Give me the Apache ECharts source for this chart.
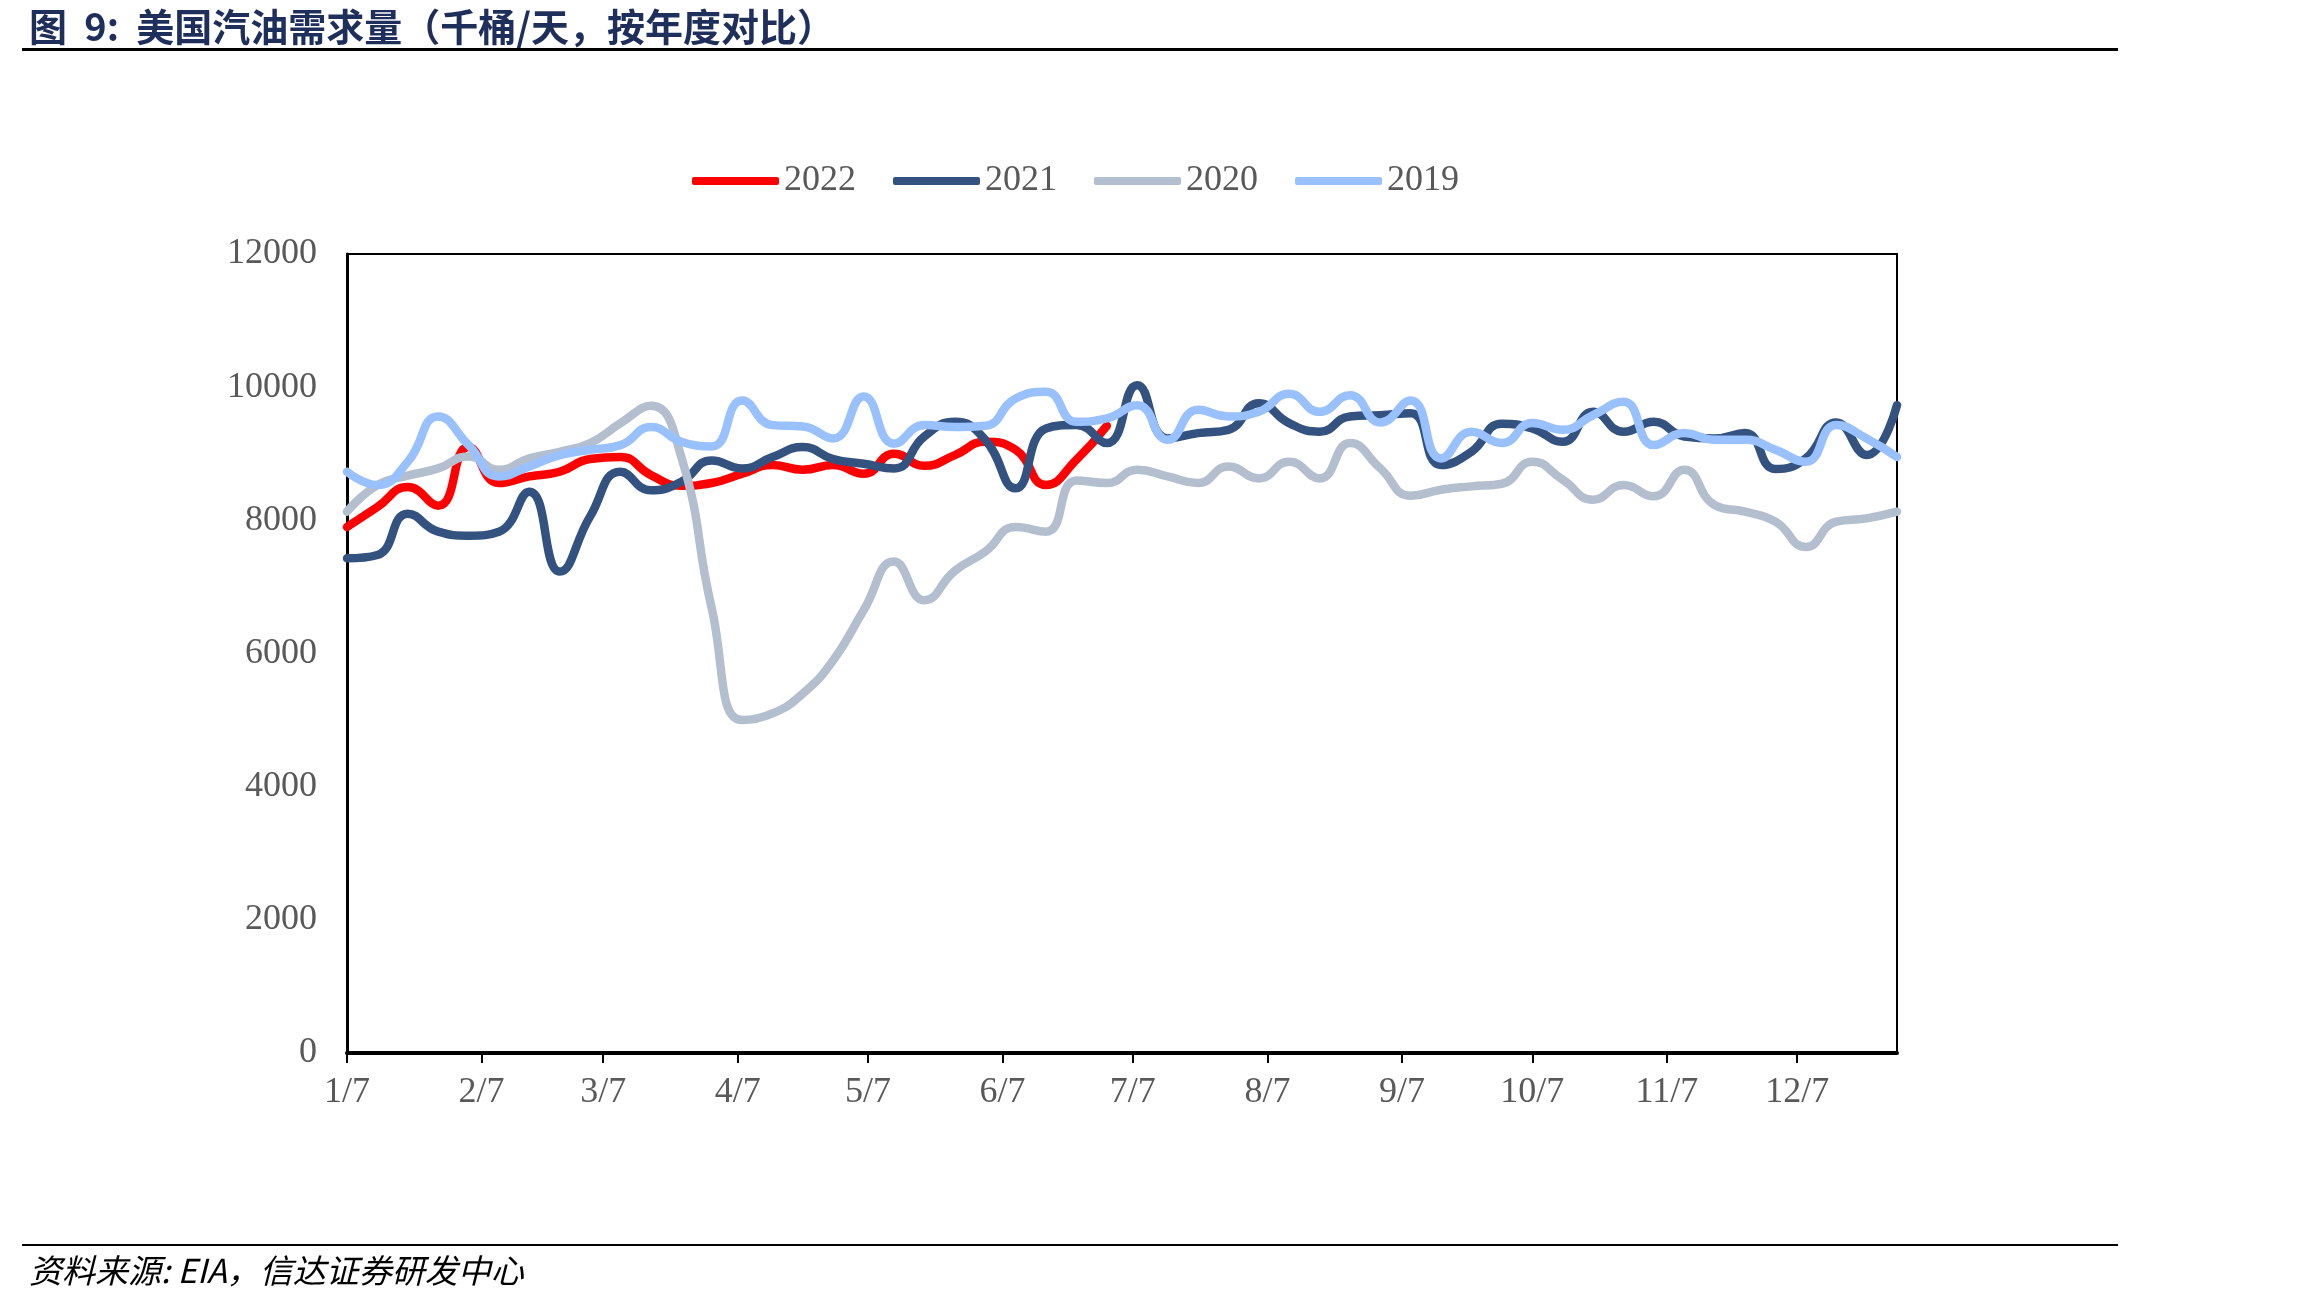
<!DOCTYPE html>
<html>
<head>
<meta charset="utf-8">
<title>美国汽油需求量</title>
<script src="https://cdn.jsdelivr.net/npm/echarts/dist/echarts.min.js"></script>
<style>
  body { margin: 0; background: #fff; }
  #main { width: 2303px; height: 1300px; }
</style>
</head>
<body>
<div id="main"></div>
<script>
// 图例 / 年份
const years = ['2022', '2021', '2020', '2019'];
const colors = ['#ff0000', '#34527f', '#b3bfcf', '#99c0ff'];

// 周度数据（千桶/天），从 1/7 起每周一个点
const d2022 = [7900, 8200, 8500, 8220, 9100, 8560, 8660, 8730, 8920, 8950, 8680, 8520, 8560, 8700, 8830, 8760, 8830, 8700, 9000, 8820, 8980, 9180, 9060, 8530, 8910, 9420];
const d2021 = [7430, 7480, 8100, 7830, 7770, 7830, 8430, 7230, 8060, 8730, 8450, 8580, 8900, 8780, 8950, 9100, 8920, 8850, 8780, 9260, 9480, 9210, 8480, 9380, 9430, 9160, 10030, 9230, 9310, 9360, 9760, 9460, 9330, 9560, 9580, 9610, 8830, 9030, 9450, 9380, 9180, 9630, 9330, 9480, 9260, 9230, 9310, 8770, 8930, 9470, 8980, 9730];
const d2020 = [8130, 8530, 8670, 8780, 8960, 8760, 8930, 9030, 9160, 9460, 9720, 8950, 6680, 5000, 5100, 5400, 5900, 6650, 7380, 6800, 7240, 7530, 7900, 7830, 8600, 8560, 8760, 8660, 8560, 8810, 8630, 8880, 8630, 9160, 8780, 8370, 8460, 8510, 8550, 8880, 8610, 8310, 8530, 8360, 8760, 8230, 8130, 7980, 7600, 7980, 8030, 8130];
const d2019 = [8730, 8530, 8880, 9560, 9130, 8660, 8810, 8980, 9060, 9130, 9400, 9180, 9110, 9800, 9430, 9410, 9230, 9860, 9150, 9430, 9400, 9420, 9830, 9930, 9480, 9530, 9730, 9210, 9660, 9560, 9630, 9900, 9630, 9880, 9470, 9800, 8930, 9330, 9160, 9460, 9360, 9580, 9780, 9130, 9310, 9210, 9210, 9060, 8880, 9430, 9230, 8950];

// x 轴刻度：距 1/7 的天数
const tickDays = [0, 31, 59, 90, 120, 151, 181, 212, 243, 273, 304, 334];
const tickLabels = ['1/7', '2/7', '3/7', '4/7', '5/7', '6/7', '7/7', '8/7', '9/7', '10/7', '11/7', '12/7'];

const allData = [d2022, d2021, d2020, d2019];
const toPoints = arr => arr.map((v, i) => [i * 7, v]);

const serif = 'Liberation Serif';
const cjk = 'Noto Sans CJK SC';

var myChart = echarts.init(document.getElementById('main'));
myChart.setOption({
  backgroundColor: '#fff',
  animation: false,
  title: [
    {
      text: '图  9:  美国汽油需求量（千桶/天，按年度对比）',
      left: 24, top: 3,
      textStyle: { fontFamily: cjk, fontSize: 38, fontWeight: 'bold', color: '#1f2f5c' }
    },
    {
      text: '资料来源: EIA，信达证券研发中心',
      left: 24, top: 1249,
      textStyle: { fontFamily: cjk, fontSize: 33, fontWeight: 'normal', fontStyle: 'italic', color: '#000' }
    }
  ],
  graphic: [
    { type: 'rect', shape: { x: 22, y: 48, width: 2096, height: 3 }, style: { fill: '#000' } },
    { type: 'rect', shape: { x: 22, y: 1244, width: 2096, height: 2 }, style: { fill: '#000' } }
  ],
  legend: {
    left: 687, top: 158,
    itemWidth: 87, itemHeight: 8, itemGap: 37,
    icon: 'roundRect',
    textStyle: { fontFamily: serif, fontSize: 36, color: '#595959' },
    data: years
  },
  grid: {
    left: 347, right: 406, top: 254, bottom: 247,
    show: true, borderColor: '#000', borderWidth: 2, backgroundColor: 'transparent'
  },
  xAxis: {
    type: 'value',
    min: 0, max: 357,
    splitLine: { show: false },
    axisLine: { lineStyle: { color: '#000', width: 4 } },
    axisTick: { show: true, customValues: tickDays, length: 10, lineStyle: { color: '#000', width: 2 } },
    axisLabel: {
      customValues: tickDays,
      margin: 22,
      fontFamily: serif, fontSize: 36, color: '#595959',
      formatter: v => tickLabels[tickDays.indexOf(v)] || ''
    }
  },
  yAxis: {
    type: 'value',
    min: 0, max: 12000, interval: 2000,
    splitLine: { show: false },
    axisLine: { show: true, lineStyle: { color: '#000', width: 3 } },
    axisTick: { show: false },
    axisLabel: { margin: 30, fontFamily: serif, fontSize: 36, color: '#595959', formatter: v => String(v) }
  },
  series: years.map((name, k) => ({
    name: name,
    type: 'line',
    smooth: 0.5,
    showSymbol: false,
    color: colors[k],
    lineStyle: { width: 8.5, color: colors[k], cap: 'round' },
    data: toPoints(allData[k])
  }))
});
</script>
</body>
</html>
